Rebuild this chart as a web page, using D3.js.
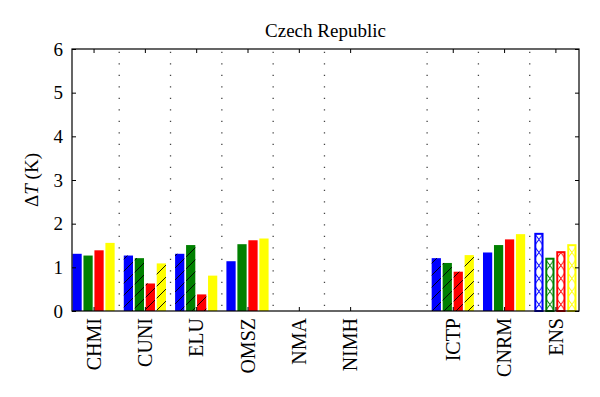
<!DOCTYPE html>
<html>
<head>
<meta charset="utf-8">
<script src="https://cdn.jsdelivr.net/npm/d3@7"></script>
<style>
  body { margin: 0; background: #fff; }
  svg text { font-family: "Liberation Serif", "Times New Roman", serif; fill: #000; }
</style>
</head>
<body>
<div id="chart"></div>
<script>
// Czech Republic, change in temperature per model

const width = 600;
const height = 397;
const margin = {left: 72, right: 21, top: 49, bottom: 86};

// model names along the x axis (the gap before ICTP is an empty slot)
const models = ["CHMI", "CUNI", "ELU", "OMSZ", "NMA", "NIMH", "ICTP", "CNRM", "ENS"];

// four series per model
const blueVals   = [1.31, 1.27, 1.31, 1.14, 0, 0, 1.21, 1.34, 1.79];
const greenVals  = [1.27, 1.21, 1.51, 1.53, 0, 0, 1.10, 1.51, 1.22];
const redVals    = [1.39, 0.63, 0.38, 1.62, 0, 0, 0.90, 1.64, 1.37];
const yellowVals = [1.56, 1.09, 0.81, 1.66, 0, 0, 1.28, 1.76, 1.53];

const yTicks = [0, 1, 2, 3, 4, 5, 6];

// styles
const colors = ["#0000ff", "#008000", "#ff0000", "#ffff00"];
const hatched = {CUNI: [1, 1, 1, 1], ELU: [1, 1, 1, 0], ICTP: [1, 1, 1, 1]};
const crossed = ["ENS"];

const series = [blueVals, greenVals, redVals, yellowVals];

// slot index on the x scale, skip one slot after NIMH
const slotOf = (i) => i + 1 + (i >= 6 ? 1 : 0);

const svg = d3.select("#chart")
  .append("svg")
  .attr("width", width)
  .attr("height", height);

const x = d3.scaleLinear()
  .domain([0.58, 10.46])
  .range([margin.left, width - margin.right]);

const y = d3.scaleLinear()
  .domain([0, 6])
  .range([height - margin.bottom, margin.top]);

const barPitch = 0.214;
const barW = x(0.18) - x(0);

// dotted separators between groups
const seps = [1.5, 2.5, 3.5, 4.5, 5.5, 7.5, 8.5, 9.5];
svg.append("g")
  .selectAll("line")
  .data(seps)
  .enter()
  .append("line")
    .attr("x1", d => x(d)).attr("x2", d => x(d))
    .attr("y1", y(0)).attr("y2", y(6))
    .attr("stroke", "#444")
    .attr("stroke-width", 1.3)
    .attr("stroke-dasharray", "1.3,10.2")
    .attr("stroke-dashoffset", -5);

const defs = svg.append("defs");

// diagonal black hatch
defs.append("pattern")
  .attr("id", "hatch")
  .attr("patternUnits", "userSpaceOnUse")
  .attr("width", 12).attr("height", 12)
  .attr("y", y(0))
  .append("path")
    .attr("d", "M-3,3 L3,-3 M0,12 L12,0 M9,15 L15,9")
    .attr("stroke", "#000")
    .attr("stroke-width", 0.9);

// bars
const bars = [];
models.forEach((m, i) => {
  series.forEach((vals, s) => {
    bars.push({model: m, i: i, s: s, v: vals[i]});
  });
});

const barX = d => x(slotOf(d.i) - 1.5 * barPitch + d.s * barPitch) - barW / 2;

const g = svg.append("g");

bars.filter(d => d.v > 0).forEach(d => {
  const bx = barX(d);
  const top = y(d.v);
  const h = y(0) - top;
  if (crossed.includes(d.model)) {
    const pid = "cross" + d.i + "_" + d.s;
    const cw = barW, ch = 13;
    const p = defs.append("pattern")
      .attr("id", pid)
      .attr("patternUnits", "userSpaceOnUse")
      .attr("x", bx).attr("y", y(0))
      .attr("width", cw).attr("height", ch);
    p.append("rect").attr("width", cw).attr("height", ch).attr("fill", "#fff");
    p.append("path")
      .attr("d", `M0,0 L${cw},${ch} M${cw},0 L0,${ch}`)
      .attr("stroke", colors[d.s])
      .attr("stroke-width", 1);
    g.append("rect")
      .attr("x", bx + 1).attr("y", top + 1)
      .attr("width", barW - 2).attr("height", h - 1)
      .attr("fill", `url(#${pid})`)
      .attr("stroke", colors[d.s])
      .attr("stroke-width", 2);
  } else {
    g.append("rect")
      .attr("x", bx).attr("y", top)
      .attr("width", barW).attr("height", h)
      .attr("fill", colors[d.s]);
    if (hatched[d.model] && hatched[d.model][d.s]) {
      g.append("rect")
        .attr("x", bx).attr("y", top)
        .attr("width", barW).attr("height", h)
        .attr("fill", "url(#hatch)");
    }
  }
});

// frame
svg.append("rect")
  .attr("x", margin.left).attr("y", margin.top)
  .attr("width", width - margin.left - margin.right)
  .attr("height", height - margin.top - margin.bottom)
  .attr("fill", "none")
  .attr("stroke", "#000")
  .attr("stroke-width", 1.2);

// y axis left, ticks inward
const yAxis = svg.append("g")
  .attr("transform", `translate(${margin.left},0)`)
  .call(d3.axisLeft(y).tickValues(yTicks).tickSize(-4).tickPadding(9).tickFormat(d3.format("d")));
yAxis.select(".domain").remove();
yAxis.selectAll("text").attr("font-size", "19px").attr("font-family", "Liberation Serif");

// y axis right
const yAxisR = svg.append("g")
  .attr("transform", `translate(${width - margin.right},0)`)
  .call(d3.axisRight(y).tickValues(yTicks).tickSize(-4).tickFormat(""));
yAxisR.select(".domain").remove();

// x axis bottom with rotated labels
const xAxis = svg.append("g")
  .attr("transform", `translate(0,${height - margin.bottom})`)
  .call(d3.axisBottom(x)
    .tickValues(models.map((m, i) => slotOf(i)))
    .tickSize(-4)
    .tickFormat((d, i) => models[i]));
xAxis.select(".domain").remove();
xAxis.selectAll("text")
  .attr("transform", "rotate(-90)")
  .attr("text-anchor", "end")
  .attr("x", -7)
  .attr("y", 0)
  .attr("dy", "0.33em")
  .attr("font-size", "20px")
  .attr("font-family", "Liberation Serif");

// x axis top ticks
const xAxisT = svg.append("g")
  .attr("transform", `translate(0,${margin.top})`)
  .call(d3.axisTop(x)
    .tickValues(models.map((m, i) => slotOf(i)))
    .tickSize(-4)
    .tickFormat(""));
xAxisT.select(".domain").remove();

// y label
const yLabel = svg.append("text")
  .attr("transform", `translate(38,${180}) rotate(-90)`)
  .attr("text-anchor", "middle")
  .attr("font-size", "19px");
yLabel.append("tspan").text("\u0394");
yLabel.append("tspan").attr("font-style", "italic").text("T");
yLabel.append("tspan").text(" (K)");

// title
svg.append("text")
  .attr("x", (margin.left + width - margin.right) / 2)
  .attr("y", 37)
  .attr("text-anchor", "middle")
  .attr("font-size", "19px")
  .text("Czech Republic");
</script>
</body>
</html>
